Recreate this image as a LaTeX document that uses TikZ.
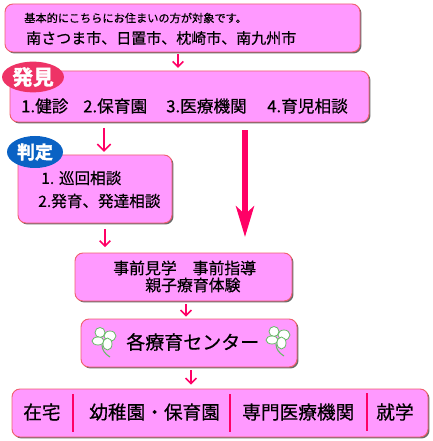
\documentclass[tikz,border=0pt]{standalone}
\usepackage{fontspec}
\setmainfont[FakeBold=0.5]{Noto Sans CJK JP}
\newfontfamily\tagfont[FakeBold=2]{Noto Sans CJK JP Bold}
\usetikzlibrary{arrows.meta,shadows,shapes.geometric}
\definecolor{boxpink}{HTML}{FF99FF}
\definecolor{boxline}{HTML}{F0606F}
\definecolor{arrowpink}{HTML}{FF0066}
\definecolor{badgered}{HTML}{EE3366}
\definecolor{badgeblue}{HTML}{0A62C4}
\definecolor{cloverline}{HTML}{66BB66}
\tikzset{
  flowbox/.style={draw=boxline,fill=boxpink,line width=0.7pt,rounded corners=6pt,
    drop shadow={shadow xshift=1.1pt,shadow yshift=-1.1pt,fill=black!65,opacity=0.9}},
  flowarrow/.style={draw=arrowpink,line width=1.2pt,-{Straight Barb[length=4pt,width=8pt]}},
  bigarrow/.style={draw=arrowpink,line width=3.8pt,-{Stealth[length=23pt,width=13.5pt,inset=6pt]}},
  divider/.style={draw=arrowpink,line width=1pt},
  badge/.style={ellipse,inner sep=0pt,text=white},
  boxtext/.style={inner sep=0pt,anchor=west,text=black},
  leaf/.style={draw=cloverline,fill=white,line width=0.6pt}
}
\newcommand{\clover}[2]{%
  \begin{scope}[shift={(#1)},rotate=#2]
    \draw[cloverline,line width=0.8pt] (-2,6) .. controls (-2,11) and (1,15) .. (6,18);
    \path[leaf] (-4,-6.5) circle (5);
    \path[leaf] (6,-3) ellipse (6 and 5);
    \path[leaf] (-6,2) ellipse (6 and 4);
    \path[leaf] (3.5,5) ellipse (4.5 and 6);
  \end{scope}}
\begin{document}
\begin{tikzpicture}[x=0.75pt,y=-0.75pt]
  \useasboundingbox (0,0) rectangle (432,441);
  % boxes
  \node[flowbox,minimum width=266.25pt,minimum height=36pt] (area) at (182.5,28) {};
  \node[flowbox,minimum width=269.25pt,minimum height=38.25pt] (found) at (189.5,96.5) {};
  \node[flowbox,minimum width=115.5pt,minimum height=51pt] (judge) at (95,189) {};
  \node[flowbox,minimum width=162.75pt,minimum height=36pt] (visit) at (183.5,277) {};
  \node[flowbox,minimum width=162pt,minimum height=36pt] (center) at (189,343) {};
  \node[flowbox,minimum width=312pt,minimum height=36pt] (after) at (220,413) {};
  % small arrows
  \coordinate (a1) at (178,0);
  \coordinate (a2) at (104,0);
  \coordinate (a3) at (105,0);
  \coordinate (a4) at (186,0);
  \coordinate (a5) at (191,0);
  \coordinate (big) at (245,237);
  \draw[flowarrow,shorten <=1.5pt,shorten >=2pt] (a1 |- area.south) -- (a1 |- found.north);
  \draw[flowarrow,shorten <=4pt,shorten >=2pt,-{Straight Barb[length=5pt,width=10pt]}] (a2 |- found.south) -- (a2 |- judge.north);
  \draw[flowarrow,shorten <=4pt,shorten >=4pt] (a3 |- judge.south) -- (a3 |- visit.north);
  \draw[flowarrow,shorten <=2pt,shorten >=1.5pt] (a4 |- visit.south) -- (a4 |- center.north);
  \draw[flowarrow,shorten <=2pt,shorten >=3pt] (a5 |- center.south) -- (a5 |- after.north);
  \draw[bigarrow,shorten <=6pt] (big |- found.south) -- (big);
  % badges
  \node[badge,fill=badgered,minimum width=46.5pt,minimum height=23pt,font=\fontsize{15.5}{15}\tagfont] (foundtag) at (33,77) {発見};
  \node[badge,fill=badgeblue,minimum width=42pt,minimum height=24pt,font=\fontsize{13.5}{13}\tagfont] (judgetag) at (35,152) {判定};
  % texts
  \node[boxtext,font=\fontsize{8.4}{9}\selectfont] (areanote) at (24,18) {基本的にこちらにお住まいの方が対象です。};
  \node[boxtext,font=\fontsize{11.25}{12}\selectfont] (areacity) at (26,38) {南さつま市、日置市、枕崎市、南九州市};
  \node[boxtext,font=\fontsize{12.5}{13}\selectfont] (found1) at (21,106) {1.健診};
  \node[boxtext,font=\fontsize{12.5}{13}\selectfont] (found2) at (83,106) {2.保育園};
  \node[boxtext,font=\fontsize{12.5}{13}\selectfont] (found3) at (166,106) {3.医療機関};
  \node[boxtext,font=\fontsize{12.5}{13}\selectfont] (found4) at (267,106) {4.育児相談};
  \node[boxtext,font=\fontsize{11.7}{12}\selectfont] (judge1) at (41,178) {1. 巡回相談};
  \node[boxtext,font=\fontsize{11.7}{12}\selectfont] (judge2) at (38,201) {2.発育、発達相談};
  \node[boxtext,font=\fontsize{11.9}{12}\selectfont] (visit1) at (113,268) {事前見学　事前指導};
  \node[boxtext,font=\fontsize{11.9}{12}\selectfont] (visit2) at (145,285) {親子療育体験};
  \node[boxtext,font=\fontsize{14.25}{15}\selectfont] (centername) at (126,342) {各療育センター};
  \node[boxtext,font=\fontsize{14}{15}\selectfont] (after1) at (23,412) {在宅};
  \node[boxtext,font=\fontsize{14}{15}\selectfont] (after2) at (89,412) {幼稚園・保育園};
  \node[boxtext,font=\fontsize{14}{15}\selectfont] (after3) at (242,412) {専門医療機関};
  \node[boxtext,font=\fontsize{14}{15}\selectfont] (after4) at (376,412) {就学};
  % dividers
  \draw[divider] (73,394) -- (73,432);
  \draw[divider] (230,394) -- (230,432);
  \draw[divider] (367,393) -- (367,431);
  % clovers
  \clover{104,339}{0}
  \clover{278,338}{0}
\end{tikzpicture}
\end{document}
